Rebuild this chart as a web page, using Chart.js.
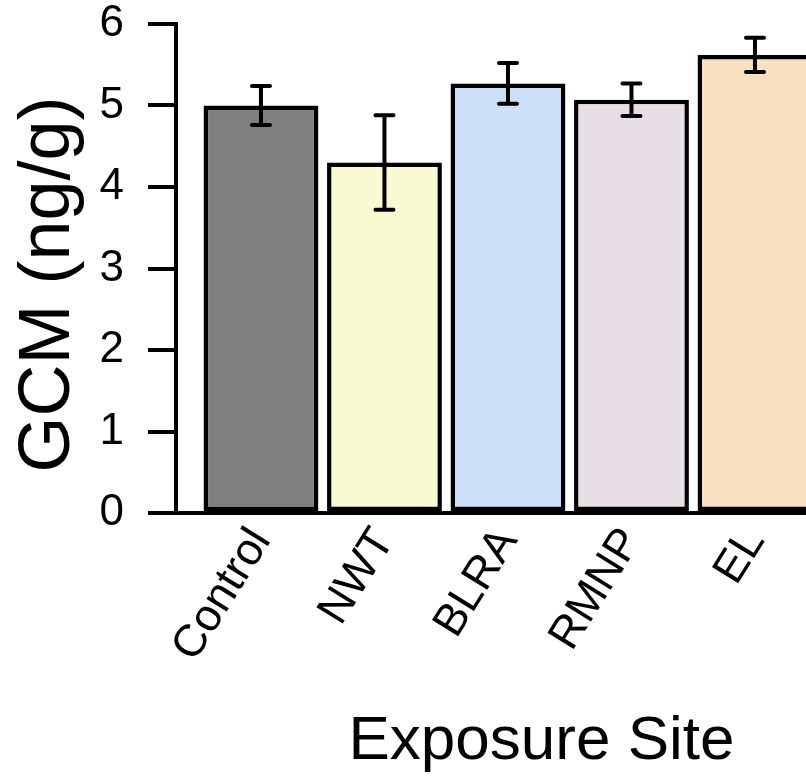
<!DOCTYPE html>
<html>
<head>
<meta charset="utf-8">
<script src="https://cdn.jsdelivr.net/npm/chart.js@4.4.1/dist/chart.umd.min.js"></script>
<style>
  html, body { margin: 0; padding: 0; overflow: hidden; background: #fff; width: 806px; height: 776px; }
  #wrap { position: relative; width: 907px; height: 776px; }
</style>
</head>
<body>
<div id="wrap"><canvas id="c" width="907" height="776"></canvas></div>
<script>
// Mean GCM concentration per exposure site, with standard errors
const sites = ['Control', 'NWT', 'BLRA', 'RMNP', 'EL'];
const gcmMean = [5.00, 4.30, 5.27, 5.07, 5.62];
const gcmSE = [0.24, 0.58, 0.25, 0.20, 0.21];
const barColors = ['#7f7f7f', '#fafad2', '#cce0fa', '#e8dee6', '#f7e1c1'];
const yTicks = [0, 1, 2, 3, 4, 5, 6];
const yTitle = 'GCM (ng/g)';
const xTitle = 'Exposure Site';

const FONT = "'Liberation Sans', Arial, sans-serif";
Chart.defaults.font.family = FONT;
Chart.defaults.color = '#000';

// Vertical error bars with caps, drawn through the chart's own scales
const errorBars = {
  id: 'errorBars',
  afterDatasetsDraw(chart) {
    const { ctx, scales: { y } } = chart;
    const meta = chart.getDatasetMeta(0);
    ctx.save();
    ctx.strokeStyle = '#000';
    ctx.lineWidth = 4;
    ctx.lineCap = 'round';
    meta.data.forEach((bar, i) => {
      const top = y.getPixelForValue(gcmMean[i] + gcmSE[i]);
      const bot = y.getPixelForValue(gcmMean[i] - gcmSE[i]);
      const half = 9;
      ctx.beginPath();
      ctx.moveTo(bar.x, top); ctx.lineTo(bar.x, bot);
      ctx.moveTo(bar.x - half, top); ctx.lineTo(bar.x + half, top);
      ctx.moveTo(bar.x - half, bot); ctx.lineTo(bar.x + half, bot);
      ctx.stroke();
    });
    ctx.restore();
  }
};

// Rotated y-axis title, set a little below the middle of the plot height
const yAxisTitle = {
  id: 'yAxisTitle',
  afterDraw(chart) {
    const { ctx, chartArea } = chart;
    const cy = (chartArea.top + chartArea.bottom) / 2 + 16;
    ctx.save();
    ctx.translate(49, cy);
    ctx.rotate(-Math.PI / 2);
    ctx.font = '72px ' + FONT;
    ctx.fillStyle = '#000';
    ctx.textAlign = 'center';
    ctx.textBaseline = 'middle';
    ctx.fillText(yTitle, 0, 0);
    ctx.restore();
  }
};

new Chart(document.getElementById('c'), {
  type: 'bar',
  data: {
    datasets: [{
      data: gcmMean.map((v, i) => ({ x: i, y: v })),
      backgroundColor: barColors,
      borderColor: '#000',
      borderWidth: 4.5,
      borderSkipped: false,
      barPercentage: 0.93,
      categoryPercentage: 1
    }]
  },
  options: {
    responsive: false,
    animation: false,
    events: [],
    layout: { padding: { top: 24, left: 0, right: 0, bottom: 0 } },
    plugins: { legend: { display: false }, tooltip: { enabled: false } },
    scales: {
      x: {
        type: 'linear',
        min: -0.688,
        max: 5.231,
        offset: false,
        afterBuildTicks(s) { s.ticks = sites.map((_, i) => ({ value: i })); },
        afterFit(s) { s.height = 263; s.paddingLeft = 0; s.paddingRight = 0; },
        grid: { display: false, drawTicks: false },
        border: { display: true, color: '#000', width: 4 },
        ticks: {
          autoSkip: false,
          minRotation: 58,
          maxRotation: 58,
          padding: 12,
          color: '#000',
          font: { size: 45, lineHeight: 0.7 },
          callback: (v) => sites[v]
        },
        title: {
          display: true,
          text: xTitle,
          color: '#000',
          font: { size: 62, lineHeight: 1.1 },
          padding: 0
        }
      },
      y: {
        min: 0,
        max: 6,
        afterBuildTicks(s) { s.ticks = yTicks.map(v => ({ value: v })); },
        afterFit(s) { s.width = 176; s.paddingTop = 0; s.paddingBottom = 0; },
        grid: { drawOnChartArea: false, drawTicks: true, tickLength: 28, color: '#000', lineWidth: 4 },
        border: { display: true, color: '#000', width: 4 },
        ticks: { padding: 24, color: '#000', font: { size: 44 } },
        title: { display: false }
      }
    }
  },
  plugins: [errorBars, yAxisTitle]
});
</script>
</body>
</html>
